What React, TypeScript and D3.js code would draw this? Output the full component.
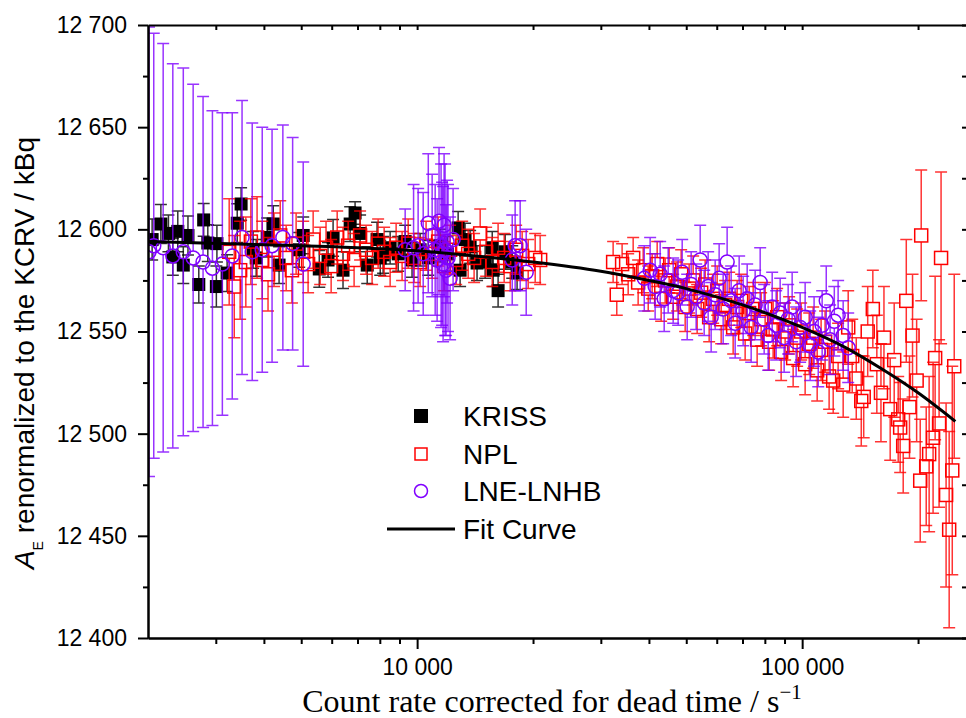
import React, { useEffect, useRef } from "react";
import * as d3 from "d3";

// KRISS: count rate (s^-1), activity (kBq), uncertainty (kBq)
const krissRate = [2050, 2160, 2260, 2320, 2390, 2470, 2540, 2710, 2790, 2860,
  3010, 3020, 3210, 3410, 3490, 3750, 3820, 4080, 4230, 4380,
  4940, 5060, 5570, 5870, 6050, 6420, 6700, 6900, 7110, 7420,
  7870, 8020, 8160, 8510, 8930, 9310, 9700, 10180, 10690, 11470,
  11990, 12780, 12930, 13320, 13730, 14310, 15020, 15670, 15760, 16230,
  16930, 17660, 18180];
const krissValue = [12595, 12602.6, 12598, 12586.5, 12599, 12582.5, 12597, 12573, 12604.6, 12593.3,
  12572, 12593, 12578.6, 12603, 12612.4, 12590, 12586, 12596, 12602.6, 12582.5,
  12590, 12597, 12580.6, 12585, 12595.8, 12580, 12602.6, 12608, 12598, 12582.5,
  12595, 12586, 12587.5, 12591, 12588, 12594, 12585, 12590, 12586, 12592,
  12588, 12600.7, 12580, 12595, 12591.4, 12583.5, 12584, 12591, 12580, 12570,
  12589, 12584, 12578.6];
const krissUnc = [10, 9.5, 9, 9, 10, 9, 9.5, 9, 8, 9,
  10, 9, 9, 9.5, 8, 9, 9, 9.5, 9, 9,
  8.5, 9, 9, 8.5, 9, 9, 8.5, 5.5, 9, 9,
  8.5, 8.5, 9, 8, 8.5, 8, 8.5, 8, 8.5, 8,
  8.5, 8, 8, 8, 8, 8.5, 8, 8, 8, 8,
  8.5, 8, 8];

// NPL, low count rates
const nplLowRate = [3250, 3350, 3470, 3590, 3700, 3840, 3960, 4100, 4250, 4410,
  4570, 4730, 4850, 5060, 5210, 5370, 5600, 5800, 5980, 6200,
  6420, 6620, 6860, 7110, 7370, 7640, 7920, 8210, 8510, 8820,
  9140, 9480, 9820, 10180, 10550, 10940, 11340, 11750, 12180, 12630,
  13090, 13570, 14060, 14580, 15110, 15670, 16230, 16830, 17450, 18080,
  18740, 19430, 20260, 20870];
const nplLowValue = [12589, 12572, 12580, 12584, 12594, 12596, 12585, 12578, 12590, 12597,
  12586, 12580, 12593, 12589, 12583, 12595, 12587, 12591, 12582, 12596,
  12588, 12592, 12585, 12597, 12590, 12586, 12593, 12589, 12584, 12591,
  12587, 12593, 12586, 12584, 12592, 12588, 12594, 12582, 12590, 12585,
  12592, 12588, 12586, 12598, 12589, 12584, 12591, 12586, 12582, 12590,
  12587, 12583, 12586, 12585];
const nplLowUnc = [26, 25, 24, 22, 21, 20, 19, 18, 18, 17,
  16, 16, 15, 15, 14, 14, 14, 13, 13, 13,
  13, 12, 13, 12, 12, 13, 12, 12, 12, 12,
  12, 12, 12, 12, 12, 12, 12, 12, 12, 12,
  12, 12, 12, 12, 12, 12, 12, 12, 12, 12,
  12, 12, 12, 12];

// NPL, high count rates
const nplHighRate = [32290, 33000, 34070, 35330, 36400, 37500, 38650, 39830, 40780, 42020,
  43030, 44080, 45140, 46240, 47350, 48500, 49680, 50880, 52110, 53370,
  54670, 55990, 57340, 58730, 60150, 61610, 63100, 64630, 66190, 67790,
  69430, 71110, 72840, 74600, 76400, 78250, 80150, 82090, 84070, 86110,
  88190, 90320, 92510, 94750, 97040, 99390, 101800, 104300, 106800, 109400,
  112000, 114700, 117500, 120400, 124000, 127800];
const nplHighValue = [12584, 12568, 12583, 12578, 12586, 12574, 12580, 12571, 12577, 12583,
  12566, 12575, 12580, 12567, 12572, 12578, 12562, 12571, 12575, 12561,
  12569, 12573, 12557, 12566, 12570, 12556, 12563, 12566, 12552, 12562,
  12565, 12549, 12559, 12561, 12546, 12556, 12561, 12545, 12551, 12557,
  12540, 12550, 12553, 12537, 12547, 12550, 12534, 12544, 12547, 12531,
  12541, 12545, 12528, 12526, 12538, 12524];
const nplHighUnc = [10, 10, 10, 10, 10, 11, 11, 11, 11, 11,
  11, 11, 11, 11, 12, 12, 12, 12, 12, 12,
  12, 12, 12, 12, 12, 12, 12, 13, 13, 13,
  13, 13, 13, 13, 13, 13, 13, 14, 14, 14,
  14, 14, 14, 14, 14, 14, 15, 15, 15, 15,
  15, 15, 16, 16, 16, 16];

// NPL, highest count rates
const nplTopRate = [131700, 134900, 138200, 142400, 144500, 148000, 152600, 156300, 160200, 163100,
  169300, 173400, 177600, 179700, 183000, 186400, 190000, 193500, 198300, 202600,
  203800, 210000, 213700, 218800, 221500, 226800, 229500, 236500, 240900, 245400,
  248300];
const nplTopValue = [12552, 12538, 12527, 12516, 12518, 12550, 12561, 12534, 12520, 12547,
  12512, 12536, 12507, 12503, 12494, 12565, 12513, 12548, 12526, 12477,
  12597, 12484, 12490, 12498, 12537, 12505, 12586, 12470, 12453, 12482,
  12533];
const nplTopUnc = [18, 18, 20, 22, 20, 22, 19, 24, 24, 25,
  25, 28, 21, 22, 23, 30, 25, 30, 30, 30,
  32, 29, 38, 37, 40, 41, 42, 45, 48, 51,
  45];

// LNE-LNHB, low count rates
const lneLowRate = [2012, 2070, 2190, 2320, 2470, 2620, 2780, 2940, 3120, 3310,
  3510, 3730, 3960, 4200, 4480, 4750, 5060];
const lneLowValue = [12589, 12592, 12591, 12587, 12589, 12586, 12584, 12581, 12583, 12587,
  12596, 12589, 12590, 12592, 12596, 12593, 12583];
const lneLowUnc = [110, 104, 100, 94, 90, 85, 81, 77, 74, 70,
  67, 63, 60, 57, 55, 52, 50];

// LNE-LNHB, middle count rates
const lneMidRate = [9310, 9790, 10060, 10370, 10690, 10940, 11140, 11270, 11400, 11540,
  11610, 11680, 11750, 11820, 11890, 11960, 12030, 12180, 12400, 17660,
  17970, 18520, 19200];
const lneMidValue = [12590, 12591, 12592, 12588, 12603, 12597, 12590, 12585, 12604, 12592,
  12588, 12583, 12602, 12590, 12580, 12594, 12586, 12576, 12595, 12585,
  12592, 12592, 12579];
const lneMidUnc = [20, 31, 28, 30, 34, 30, 32, 30, 36, 40,
  35, 38, 35, 42, 32, 30, 36, 30, 25, 22,
  22, 22, 21];

// LNE-LNHB, high count rates
const lneHighRate = [38900, 40290, 41510, 42780, 43820, 44880, 46240, 47630, 48800, 50280,
  51490, 53050, 54350, 55660, 57000, 58030, 59440, 60870, 62350, 63850,
  65400, 66990, 68610, 70270, 71980, 73720, 75500, 77800, 79680, 81610,
  83590, 85600, 87680, 89790, 91970, 94190, 96470, 98810, 101800, 104900,
  107400, 110100, 112700, 115500, 118200, 121200, 124000, 127800, 131700];
const lneHighValue = [12576, 12580, 12572, 12578, 12566, 12575, 12570, 12569, 12579, 12562,
  12573, 12567, 12585, 12564, 12572, 12557, 12568, 12576, 12561, 12584,
  12565, 12554, 12570, 12560, 12566, 12552, 12563, 12574, 12556, 12548,
  12562, 12553, 12559, 12547, 12556, 12562, 12545, 12552, 12557, 12543,
  12550, 12540, 12553, 12565, 12546, 12555, 12558, 12548, 12542];
const lneHighUnc = [16, 16, 16, 16, 16, 16, 16, 16, 16, 16,
  16, 16, 17, 16, 17, 17, 17, 17, 17, 17,
  17, 17, 17, 17, 17, 17, 17, 17, 17, 17,
  17, 17, 17, 17, 17, 17, 17, 17, 17, 17,
  17, 17, 17, 17, 17, 17, 17, 17, 17];

// fit curve
const fitRate = [2000, 4000, 7000, 10000, 15000, 20000, 30000, 40000, 50000, 70000,
  100000, 130000, 160000, 200000, 250000];
const fitValue = [12594, 12592.5, 12591, 12589.5, 12586.5, 12584, 12579.5, 12575, 12571, 12563,
  12552, 12542, 12532, 12520, 12506];

const yMajorTicks = [12400, 12450, 12500, 12550, 12600, 12650, 12700];
const yMinorTicks = [12425, 12475, 12525, 12575, 12625, 12675];
const xMajorTicks = [10000, 100000];
const xMinorTicks = [3000, 4000, 5000, 6000, 7000, 8000, 9000,
  20000, 30000, 40000, 50000, 60000, 70000, 80000, 90000, 200000];
const legendLabels = ["KRISS", "NPL", "LNE-LNHB", "Fit Curve"];

const SANS = "'Liberation Sans', Arial, sans-serif";
const SERIF = "'Liberation Serif', 'Times New Roman', serif";

export default function App() {
  const svgRef = useRef<SVGSVGElement>(null);

  useEffect(() => {
    const w = 966;
    const h = 718;
    const m = { left: 148, right: 967, top: 25, bottom: 638 };
    const svg = d3.select(svgRef.current);
    svg.selectAll("*").remove();
    svg.attr("width", w).attr("height", h);

    const xScale = d3.scaleLog().domain([2000, 268000]).range([m.left, m.right]);
    const yScale = d3.scaleLinear().domain([12400, 12700]).range([m.bottom, m.top]);
    const fmt = (d: number) => d3.format(",")(d).replace(/,/g, " ");

    svg.append("defs").append("clipPath").attr("id", "plotClip")
      .append("rect")
      .attr("x", m.left).attr("y", m.top)
      .attr("width", m.right - m.left).attr("height", m.bottom - m.top);
    const plot = svg.append("g").attr("clip-path", "url(#plotClip)");

    const series = [
      { rate: krissRate, value: krissValue, unc: krissUnc, color: "#000000", shape: "filled", half: 6.5 },
      {
        rate: [...nplLowRate, ...nplHighRate, ...nplTopRate],
        value: [...nplLowValue, ...nplHighValue, ...nplTopValue],
        unc: [...nplLowUnc, ...nplHighUnc, ...nplTopUnc],
        color: "#ff0000", shape: "square", half: 6.5,
      },
      {
        rate: [...lneLowRate, ...lneMidRate, ...lneHighRate],
        value: [...lneLowValue, ...lneMidValue, ...lneHighValue],
        unc: [...lneLowUnc, ...lneMidUnc, ...lneHighUnc],
        color: "#8000ff", shape: "circle", half: 7,
      },
    ];

    series.forEach((s) => {
      const pts = s.rate.map((r, i) => ({
        x: xScale(r),
        y: yScale(s.value[i]),
        top: yScale(s.value[i] + s.unc[i]),
        bot: yScale(s.value[i] - s.unc[i]),
      }));
      const gap = s.shape === "filled" ? 0 : s.half;
      const g = plot.append("g");

      // error bars with caps
      g.append("g")
        .attr("stroke", s.color)
        .attr("stroke-width", 1.5)
        .attr("stroke-opacity", 0.8)
        .attr("fill", "none")
        .selectAll("path")
        .data(pts)
        .join("path")
        .attr("d", (p) =>
          `M${p.x - 6},${p.top}H${p.x + 6}M${p.x},${p.top}V${p.y - gap}` +
          `M${p.x},${p.y + gap}V${p.bot}M${p.x - 6},${p.bot}H${p.x + 6}`
        );

      // markers
      const mg = g.append("g");
      if (s.shape === "circle") {
        mg.selectAll("circle").data(pts).join("circle")
          .attr("cx", (p) => p.x).attr("cy", (p) => p.y).attr("r", s.half)
          .attr("fill", "none").attr("stroke", s.color).attr("stroke-width", 1.5);
      } else {
        mg.selectAll("rect").data(pts).join("rect")
          .attr("x", (p) => p.x - s.half).attr("y", (p) => p.y - s.half)
          .attr("width", s.half * 2).attr("height", s.half * 2)
          .attr("fill", s.shape === "filled" ? s.color : "none")
          .attr("stroke", s.color)
          .attr("stroke-width", s.shape === "filled" ? 0 : 1.5);
      }
    });

    // fit curve
    const line = d3.line<number>()
      .x((d, i) => xScale(fitRate[i]))
      .y((d) => yScale(d))
      .curve(d3.curveMonotoneX);
    plot.append("path")
      .attr("d", line(fitValue))
      .attr("fill", "none")
      .attr("stroke", "#000")
      .attr("stroke-width", 3);

    // axes
    const styleAxis = (g: any) => {
      g.attr("font-family", SANS).attr("font-size", 23);
      g.select(".domain").attr("stroke-width", 2);
      g.selectAll(".tick line").attr("stroke-width", 2);
      g.selectAll(".tick text").attr("fill", "#000");
    };
    svg.append("g").attr("transform", `translate(0,${m.bottom})`)
      .call(d3.axisBottom(xScale).tickValues(xMinorTicks).tickFormat(() => "").tickSize(6).tickSizeOuter(0))
      .call(styleAxis);
    svg.append("g").attr("transform", `translate(0,${m.bottom})`)
      .call(d3.axisBottom(xScale).tickValues(xMajorTicks).tickFormat(fmt as any).tickSize(11).tickSizeOuter(0).tickPadding(10))
      .call(styleAxis);
    svg.append("g").attr("transform", `translate(0,${m.top})`)
      .call(d3.axisTop(xScale).tickValues([...xMinorTicks, ...xMajorTicks]).tickFormat(() => "").tickSize(-5).tickSizeOuter(0))
      .call(styleAxis);
    svg.append("g").attr("transform", `translate(${m.left},0)`)
      .call(d3.axisLeft(yScale).tickValues(yMinorTicks).tickFormat(() => "").tickSize(5).tickSizeOuter(0))
      .call(styleAxis);
    svg.append("g").attr("transform", `translate(${m.left},0)`)
      .call(d3.axisLeft(yScale).tickValues(yMajorTicks).tickFormat(fmt as any).tickSize(10).tickSizeOuter(0).tickPadding(11))
      .call(styleAxis);
    svg.append("g").attr("transform", `translate(${m.right},0)`)
      .call(d3.axisRight(yScale).tickValues([...yMinorTicks, ...yMajorTicks]).tickFormat(() => "").tickSize(-5).tickSizeOuter(0))
      .call(styleAxis);

    // axis titles
    const yTitle = svg.append("text")
      .attr("transform", "translate(34,353) rotate(-90)")
      .attr("text-anchor", "middle")
      .attr("font-family", SANS)
      .attr("font-size", 28);
    yTitle.append("tspan").attr("font-style", "italic").text("A");
    yTitle.append("tspan").attr("font-size", 14).attr("dy", 9).text("E");
    yTitle.append("tspan").attr("dy", -9).text(" renormalized to the KCRV / kBq");

    const xTitle = svg.append("text")
      .attr("x", 552).attr("y", 712)
      .attr("text-anchor", "middle")
      .attr("font-family", SERIF)
      .attr("font-size", 32);
    xTitle.append("tspan").text("Count rate corrected for dead time / s");
    xTitle.append("tspan").attr("font-size", 21).attr("dy", -13).text("\u22121");

    // legend
    const lg = svg.append("g").attr("font-family", SANS).attr("font-size", 28);
    const rowY = [416, 454, 491, 529];
    lg.append("rect").attr("x", 414).attr("y", rowY[0] - 7).attr("width", 14).attr("height", 14).attr("fill", "#000");
    lg.append("rect").attr("x", 415).attr("y", rowY[1] - 6).attr("width", 12).attr("height", 12)
      .attr("fill", "none").attr("stroke", "#ff0000").attr("stroke-width", 1.5);
    lg.append("circle").attr("cx", 421).attr("cy", rowY[2]).attr("r", 6.5)
      .attr("fill", "none").attr("stroke", "#8000ff").attr("stroke-width", 1.5);
    lg.append("line").attr("x1", 387).attr("x2", 455).attr("y1", rowY[3]).attr("y2", rowY[3])
      .attr("stroke", "#000").attr("stroke-width", 3);
    lg.selectAll("text").data(legendLabels).join("text")
      .attr("x", 463).attr("y", (d, i) => rowY[i] + 10)
      .text((d) => d);
  }, []);

  return (
    <svg ref={svgRef} style={{ position: "absolute", left: 0, top: 0, background: "#fff" }} />
  );
}
